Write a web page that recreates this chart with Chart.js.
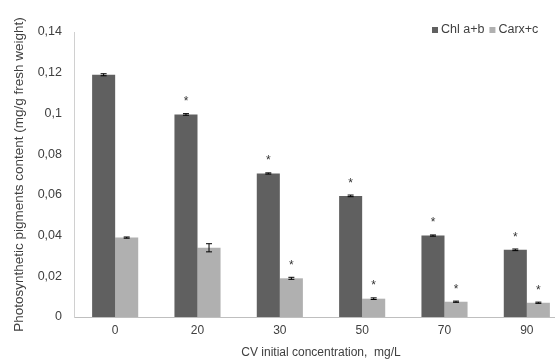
<!DOCTYPE html>
<html>
<head>
<meta charset="utf-8">
<script src="https://cdn.jsdelivr.net/npm/chart.js@4/dist/chart.umd.min.js"></script>
<style>
  html, body { margin: 0; padding: 0; background: #fff; overflow: hidden; }
  #wrap { width: 572px; height: 360px; }
</style>
</head>
<body>
<div id="wrap"><canvas id="chart"></canvas></div>
<script>
// data
const concentrations = ['0', '20', '30', '50', '70', '90'];
const chlValues = [0.119, 0.0995, 0.0705, 0.0595, 0.0400, 0.0330];
const chlErrors = [0.0005, 0.0004, 0.0003, 0.0004, 0.0003, 0.0004];
const chlSignif = [false, true, true, true, true, true];
const carValues = [0.0390, 0.0340, 0.0190, 0.0090, 0.0075, 0.0070];
const carErrors = [0.0003, 0.0020, 0.0005, 0.0004, 0.0003, 0.0003];
const carSignif = [false, false, true, true, true, true];
const yTicks = [0, 0.02, 0.04, 0.06, 0.08, 0.1, 0.12, 0.14];

const errors = [chlErrors, carErrors];
const signif = [chlSignif, carSignif];
const FONT = '"Liberation Sans", Arial, sans-serif';

const fmt = v => String(Math.round(v * 100) / 100).replace('.', ',');

// error bars + asterisks
const errorBars = {
  id: 'errorBars',
  afterDatasetsDraw(chart) {
    const { ctx } = chart;
    const y = chart.scales.y;
    ctx.save();
    chart.data.datasets.forEach((ds, di) => {
      const meta = chart.getDatasetMeta(di);
      meta.data.forEach((bar, i) => {
        const v = ds.data[i], e = errors[di][i];
        const yt = y.getPixelForValue(v + e), yb = y.getPixelForValue(v - e);
        ctx.strokeStyle = '#000';
        ctx.lineWidth = 1;
        ctx.beginPath();
        ctx.moveTo(bar.x, yt); ctx.lineTo(bar.x, yb);
        ctx.moveTo(bar.x - 3, yt); ctx.lineTo(bar.x + 3, yt);
        ctx.moveTo(bar.x - 3, yb); ctx.lineTo(bar.x + 3, yb);
        ctx.stroke();
        if (signif[di][i]) {
          ctx.fillStyle = '#333';
          ctx.font = '12px ' + FONT;
          ctx.textAlign = 'center';
          ctx.textBaseline = 'middle';
          ctx.fillText('*', bar.x, y.getPixelForValue(v + e + 0.0058));
        }
      });
    });
    ctx.restore();
  }
};

// small legend at the top right
const topLegend = {
  id: 'topLegend',
  afterDraw(chart) {
    const { ctx } = chart;
    ctx.save();
    ctx.font = '12.5px ' + FONT;
    ctx.textBaseline = 'middle';
    let x = 432;
    const yy = 30;
    chart.data.datasets.forEach(ds => {
      ctx.fillStyle = ds.backgroundColor;
      ctx.fillRect(x, yy - 3, 6, 6);
      ctx.fillStyle = '#404040';
      ctx.fillText(ds.label, x + 9, yy);
      x += 9 + ctx.measureText(ds.label).width + 5;
    });
    ctx.restore();
  }
};

new Chart(document.getElementById('chart'), {
  type: 'bar',
  data: {
    labels: concentrations,
    datasets: [
      { label: 'Chl a+b', data: chlValues, backgroundColor: '#606060', borderWidth: 0 },
      { label: 'Carx+c', data: carValues, backgroundColor: '#b0b0b0', borderWidth: 0 }
    ]
  },
  options: {
    responsive: true,
    maintainAspectRatio: false,
    animation: false,
    layout: { padding: { top: 32, right: 4, left: 0, bottom: 0 } },
    datasets: { bar: { barPercentage: 1, categoryPercentage: 0.56 } },
    plugins: {
      legend: { display: false },
      tooltip: { enabled: false }
    },
    scales: {
      x: {
        grid: { display: false, drawTicks: false },
        border: { color: '#bfbfbf', width: 1 },
        ticks: { color: '#404040', font: { size: 12, family: FONT }, padding: 6 },
        title: {
          display: true,
          text: 'CV initial concentration,  mg/L',
          color: '#404040',
          font: { size: 12, family: FONT },
          padding: { top: 0, bottom: 0 }
        },
        afterFit(s) { s.height = 43; }
      },
      y: {
        min: 0,
        max: 0.14,
        afterBuildTicks(s) { s.ticks = yTicks.map(v => ({ value: v })); },
        grid: { display: false, drawTicks: false },
        border: { color: '#d0d0d0', width: 1 },
        ticks: {
          color: '#404040',
          font: { size: 12.5, family: FONT },
          padding: 12,
          callback: v => fmt(v)
        },
        title: {
          display: true,
          text: 'Photosynthetic pigments content (mg/g fresh weight)',
          color: '#404040',
          font: { size: 13.5, family: FONT },
          padding: { top: 11, bottom: 0 }
        },
        afterFit(s) { s.width = 74; }
      }
    }
  },
  plugins: [errorBars, topLegend]
});
</script>
</body>
</html>
